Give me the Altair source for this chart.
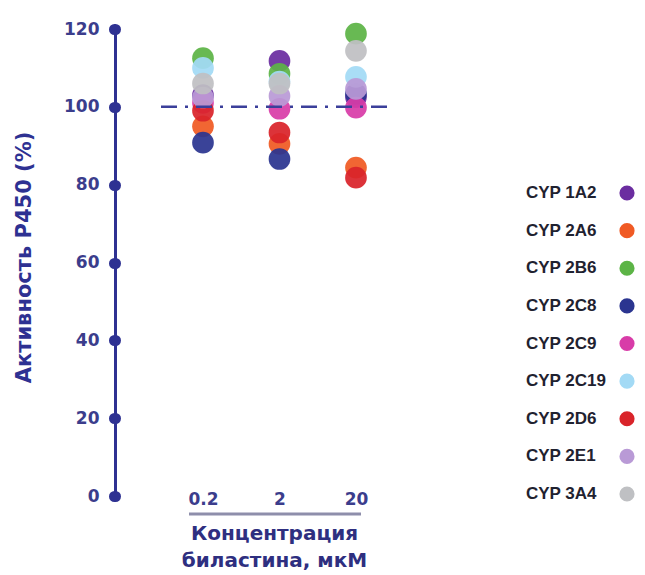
import altair as alt
import pandas as pd

# ---- data ----
conc = [0.2, 2, 20]
cyp = ["CYP 1A2", "CYP 2A6", "CYP 2B6", "CYP 2C8", "CYP 2C9",
       "CYP 2C19", "CYP 2D6", "CYP 2E1", "CYP 3A4"]
act_1a2 = [103.0, 111.8, 102.5]
act_2a6 = [95.0, 90.5, 84.4]
act_2b6 = [112.5, 108.5, 118.8]
act_2c8 = [90.8, 86.6, 103.3]
act_2c9 = [101.0, 99.5, 99.8]
act_2c19 = [110.0, 106.5, 107.7]
act_2d6 = [99.0, 93.4, 81.8]
act_2e1 = [102.4, 102.8, 104.6]
act_3a4 = [106.0, 106.0, 114.4]
colors = ["#6b2da0", "#f05a24", "#5cb446", "#2b3590", "#d83ca8",
          "#a3daf5", "#d9242a", "#b99ad6", "#bfc0c3"]
y_ticks = [0, 20, 40, 60, 80, 100, 120]
ref_level = [100]
y_title = "Активность P450 (%)"
x_title = ["Концентрация", "биластина, мкМ"]

series = [act_1a2, act_2a6, act_2b6, act_2c8, act_2c9,
          act_2c19, act_2d6, act_2e1, act_3a4]
rows = []
for i, (name, vals) in enumerate(zip(cyp, series)):
    for c, v in zip(conc, vals):
        rows.append({"cyp": name, "idx": i, "conc": c, "value": v})
df = pd.DataFrame(rows)

navy = "#2e3192"
color_scale = alt.Scale(domain=cyp, range=colors)

points = alt.Chart(df).mark_circle(size=470, opacity=0.93).encode(
    x=alt.X("conc:Q",
            scale=alt.Scale(type="log", domain=[0.01415, 87.5], nice=False),
            axis=alt.Axis(values=conc, format="~g", domain=False, ticks=False,
                          grid=False, labelFont="DejaVu Sans",
                          labelFontWeight="bold", labelFontSize=17,
                          labelColor="#3b3d8c", labelBaseline="middle",
                          labelPadding=3, title=x_title,
                          titleFont="DejaVu Sans", titleFontSize=20,
                          titleFontWeight="bold", titleColor="#2e2f80",
                          titlePadding=16, titleLineHeight=27, titleX=159)),
    y=alt.Y("value:Q", scale=alt.Scale(domain=[0, 120], nice=False),
            axis=alt.Axis(values=y_ticks, grid=False, domainColor=navy,
                          domainWidth=3, tickColor=navy, tickWidth=11,
                          tickSize=1, tickCap="round",
                          labelFont="DejaVu Sans", labelFontWeight="bold",
                          labelFontSize=17, labelColor="#3b3d8c",
                          labelPadding=15, title=y_title,
                          titleFont="DejaVu Sans", titleFontSize=21,
                          titleFontWeight="bold", titleColor=navy,
                          titlePadding=29, titleY=228)),
    color=alt.Color("cyp:N", scale=color_scale, legend=None),
    order=alt.Order("idx:Q"),
)

ref = alt.Chart(pd.DataFrame({"y": ref_level})).mark_rule(
    strokeDash=[16, 8, 3, 8], color="#3b3f9a", strokeWidth=2.5
).encode(y="y:Q", x=alt.value(46), x2=alt.value(272))

xline = alt.Chart(pd.DataFrame({"y": [0]})).mark_rule(
    color="#8e8eab", strokeWidth=3
).encode(x=alt.value(74), x2=alt.value(246), y=alt.value(485))

main = alt.layer(points, ref, xline).properties(width=290, height=467)

leg_df = pd.DataFrame({"cyp": cyp})
leg_y = alt.Y("cyp:N", scale=alt.Scale(domain=cyp, range=[164, 465], padding=0),
              axis=None)
leg_text = alt.Chart(leg_df).mark_text(
    align="left", baseline="middle", font="Liberation Sans",
    fontWeight="bold", fontSize=17, color="#1f2230"
).encode(x=alt.value(111), y=leg_y, text="cyp:N")
leg_pts = alt.Chart(leg_df).mark_circle(size=230, opacity=1).encode(
    x=alt.value(212), y=leg_y,
    color=alt.Color("cyp:N", scale=color_scale, legend=None))
legend = alt.layer(leg_text, leg_pts).properties(width=215, height=467)

chart = alt.hconcat(main, legend, spacing=10).resolve_scale(
    x="independent", y="independent"
).properties(
    padding={"left": 5, "top": 12, "right": 0, "bottom": 0}
).configure_view(stroke=None)

chart.save("out.html", embed_options={"renderer": "svg", "actions": False})
